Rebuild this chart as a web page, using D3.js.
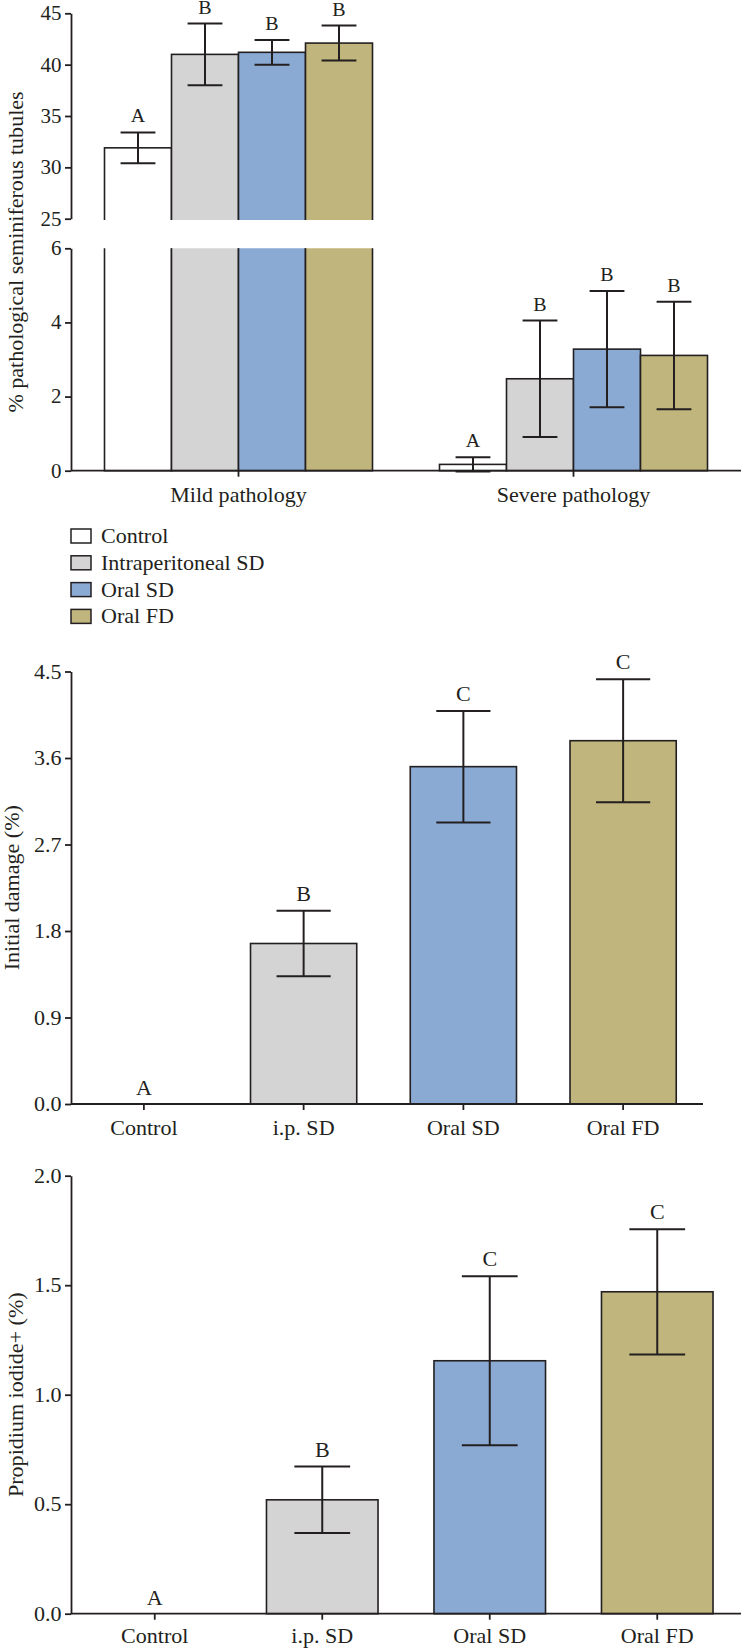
<!DOCTYPE html>
<html><head><meta charset="utf-8">
<script src="https://cdn.jsdelivr.net/npm/d3@7"></script>
<style>
body{margin:0;background:#fff}
svg{display:block}
text{font-family:"Liberation Serif","Times New Roman",serif;fill:#231f20}
</style>
</head><body>
<svg id="c" width="742" height="1649"></svg>
<script>
// ---------- data ----------
const groups = ["Control", "Intraperitoneal SD", "Oral SD", "Oral FD"];
const colors = ["#ffffff", "#d4d4d4", "#8aaad4", "#c0b57c"];

const categories1 = ["Mild pathology", "Severe pathology"];
const mildMean = [31.9, 41.0, 41.2, 42.1];
const mildErr = [1.5, 3.0, 1.2, 1.7];
const mildLetters = ["A", "B", "B", "B"];
const severeMean = [0.17, 2.48, 3.28, 3.11];
const severeErr = [0.19, 1.57, 1.57, 1.45];
const severeLetters = ["A", "B", "B", "B"];
const upperTicks = [25, 30, 35, 40, 45];
const lowerTicks = [0, 2, 4, 6];

const categories2 = ["Control", "i.p. SD", "Oral SD", "Oral FD"];
const damageMean = [0, 1.67, 3.51, 3.78];
const damageErr = [0, 0.34, 0.58, 0.64];
const damageLetters = ["A", "B", "C", "C"];
const damageTicks = [0, 0.9, 1.8, 2.7, 3.6, 4.5];

const piMean = [0, 0.52, 1.155, 1.47];
const piErr = [0, 0.152, 0.386, 0.286];
const piLetters = ["A", "B", "C", "C"];
const piTicks = [0, 0.5, 1.0, 1.5, 2.0];

// ---------- helpers ----------
const INK = "#231f20";
const SX = 1.05;
const FS = 21;
const svg = d3.select("#c");
const defs = svg.append("defs");

function styleAxis(g, fs) {
  g.selectAll("path.domain").attr("stroke", INK).attr("stroke-width", 1.8);
  g.selectAll(".tick line").attr("stroke", INK).attr("stroke-width", 1.8);
  g.selectAll(".tick text").attr("font-size", fs).attr("fill", INK)
    .attr("font-family", '"Liberation Serif",serif')
    .attr("transform", `scale(${SX},1)`);
}
function label(g, x, y, str, fs, anchor, rot) {
  return g.append("text")
    .attr("transform", `translate(${x},${y})${rot ? " rotate(-90)" : ""} scale(${SX},1)`)
    .attr("text-anchor", anchor || "middle")
    .attr("font-size", fs || FS)
    .text(str);
}
function errBar(g, cx, y, mean, err, halfCap) {
  if (err <= 0) return;
  const top = y(mean + err), bot = y(mean - err);
  g.append("line").attr("x1", cx).attr("x2", cx).attr("y1", top).attr("y2", bot);
  g.append("line").attr("x1", cx - halfCap).attr("x2", cx + halfCap).attr("y1", top).attr("y2", top);
  g.append("line").attr("x1", cx - halfCap).attr("x2", cx + halfCap).attr("y1", bot).attr("y2", bot);
}

// ================= Panel 1 =================
{
  const p = svg.append("g");
  const x0 = d3.scaleBand().domain(categories1).range([71, 741]).paddingInner(0.2).paddingOuter(0.1);
  const x1 = d3.scaleBand().domain(groups).range([0, x0.bandwidth()]);
  const yUp = d3.scaleLinear().domain([25, 45]).range([218.7, 13.3]);
  const yLow = d3.scaleLinear().domain([0, 6]).range([470.7, 248.3]);

  defs.append("clipPath").attr("id", "clipUp").append("rect")
    .attr("x", 0).attr("y", 0).attr("width", 742).attr("height", yUp(25) + 1.3);
  defs.append("clipPath").attr("id", "clipLow").append("rect")
    .attr("x", 0).attr("y", yLow(6)).attr("width", 742).attr("height", yLow(0) - yLow(6) + 10);

  const mild = groups.map((g, i) => ({ g, i, v: mildMean[i], e: mildErr[i], l: mildLetters[i] }));
  const sev = groups.map((g, i) => ({ g, i, v: severeMean[i], e: severeErr[i], l: severeLetters[i] }));
  const mx = x0(categories1[0]), sx = x0(categories1[1]);

  // mild bars, upper segment
  p.append("g").attr("clip-path", "url(#clipUp)").selectAll("rect").data(mild).join("rect")
    .attr("x", d => mx + x1(d.g)).attr("width", x1.bandwidth())
    .attr("y", d => yUp(d.v)).attr("height", d => yUp(0) - yUp(d.v))
    .attr("fill", d => colors[d.i]).attr("stroke", INK).attr("stroke-width", 1.6);
  // mild bars, lower segment
  p.append("g").attr("clip-path", "url(#clipLow)").selectAll("rect").data(mild).join("rect")
    .attr("x", d => mx + x1(d.g)).attr("width", x1.bandwidth())
    .attr("y", d => yLow(d.v)).attr("height", d => yLow(0) - yLow(d.v))
    .attr("fill", d => colors[d.i]).attr("stroke", INK).attr("stroke-width", 1.6);
  // severe bars
  p.append("g").selectAll("rect").data(sev).join("rect")
    .attr("x", d => sx + x1(d.g)).attr("width", x1.bandwidth())
    .attr("y", d => yLow(d.v)).attr("height", d => yLow(0) - yLow(d.v))
    .attr("fill", d => colors[d.i]).attr("stroke", INK).attr("stroke-width", 1.6);

  const eb = p.append("g").attr("stroke", INK).attr("stroke-width", 2);
  const half = x1.bandwidth() * 0.26;
  mild.forEach(d => {
    const cx = mx + x1(d.g) + x1.bandwidth() / 2;
    errBar(eb, cx, yUp, d.v, d.e, half);
    label(p, cx, yUp(d.v + d.e) - 10, d.l, 19);
  });
  sev.forEach(d => {
    const cx = sx + x1(d.g) + x1.bandwidth() / 2;
    errBar(eb, cx, yLow, d.v, d.e, half);
    label(p, cx, yLow(d.v + d.e) - 10, d.l, 19);
  });

  const ay1 = p.append("g").attr("transform", "translate(71,0)")
    .call(d3.axisLeft(yUp).tickValues(upperTicks).tickSize(6).tickPadding(3).tickSizeOuter(0).tickFormat(d3.format("d")));
  styleAxis(ay1, 20);
  const ay2 = p.append("g").attr("transform", "translate(71,0)")
    .call(d3.axisLeft(yLow).tickValues(lowerTicks).tickSize(6).tickPadding(3).tickSizeOuter(0).tickFormat(d3.format("d")));
  styleAxis(ay2, 20);
  const ax = p.append("g").attr("transform", `translate(0,${yLow(0)})`)
    .call(d3.axisBottom(x0).tickSize(6).tickPadding(10).tickSizeOuter(0));
  ax.select("path.domain").remove();
  styleAxis(ax, FS);
  p.append("line").attr("x1", 71).attr("x2", x0.range()[1]).attr("y1", yLow(0)).attr("y2", yLow(0))
    .attr("stroke", INK).attr("stroke-width", 1.8);

  label(p, 23, (yUp(45) + yLow(0)) / 2 + 10, "% pathological seminiferous tubules", FS, "middle", true);

  // legend
  const lg = p.append("g");
  groups.forEach((g, i) => {
    const cy = 536 + i * 26.8;
    lg.append("rect").attr("x", 71).attr("y", cy - 7).attr("width", 20).attr("height", 14)
      .attr("fill", colors[i]).attr("stroke", INK).attr("stroke-width", 1.5);
    label(lg, 101, cy + 7, g, FS, "start");
  });
}

// ================= Panel 2 =================
{
  const p = svg.append("g");
  const x = d3.scaleBand().domain(categories2).range([64, 703]).paddingInner(0.335).paddingOuter(0.1675);
  const y = d3.scaleLinear().domain([0, 4.5]).range([1104, 671.5]);
  const data = categories2.map((c, i) => ({ c, i, v: damageMean[i], e: damageErr[i], l: damageLetters[i] }));
  p.append("g").selectAll("rect").data(data.filter(d => d.v > 0)).join("rect")
    .attr("x", d => x(d.c)).attr("width", x.bandwidth())
    .attr("y", d => y(d.v)).attr("height", d => y(0) - y(d.v))
    .attr("fill", d => colors[d.i]).attr("stroke", INK).attr("stroke-width", 1.6);
  const eb = p.append("g").attr("stroke", INK).attr("stroke-width", 2);
  data.forEach(d => {
    const cx = x(d.c) + x.bandwidth() / 2;
    errBar(eb, cx, y, d.v, d.e, x.bandwidth() * 0.255);
    label(p, cx, y(d.v + d.e) - (d.e > 0 ? 10 : 9), d.l, FS);
  });
  const ay = p.append("g").attr("transform", "translate(71,0)")
    .call(d3.axisLeft(y).tickValues(damageTicks).tickSize(6).tickPadding(3).tickSizeOuter(0).tickFormat(d3.format(".1f")));
  styleAxis(ay, FS);
  const ax = p.append("g").attr("transform", `translate(0,${y(0)})`)
    .call(d3.axisBottom(x).tickSize(6).tickPadding(10).tickSizeOuter(0));
  ax.select("path.domain").remove();
  styleAxis(ax, FS);
  p.append("line").attr("x1", 71).attr("x2", x.range()[1]).attr("y1", y(0)).attr("y2", y(0))
    .attr("stroke", INK).attr("stroke-width", 1.8);
  label(p, 19, (y(0) + y(4.5)) / 2, "Initial damage (%)", FS, "middle", true);
}

// ================= Panel 3 =================
{
  const p = svg.append("g");
  const x = d3.scaleBand().domain(categories2).range([71, 741]).paddingInner(0.334).paddingOuter(0.167);
  const y = d3.scaleLinear().domain([0, 2]).range([1613.7, 1175.7]);
  const data = categories2.map((c, i) => ({ c, i, v: piMean[i], e: piErr[i], l: piLetters[i] }));
  p.append("g").selectAll("rect").data(data.filter(d => d.v > 0)).join("rect")
    .attr("x", d => x(d.c)).attr("width", x.bandwidth())
    .attr("y", d => y(d.v)).attr("height", d => y(0) - y(d.v))
    .attr("fill", d => colors[d.i]).attr("stroke", INK).attr("stroke-width", 1.6);
  const eb = p.append("g").attr("stroke", INK).attr("stroke-width", 2);
  data.forEach(d => {
    const cx = x(d.c) + x.bandwidth() / 2;
    errBar(eb, cx, y, d.v, d.e, x.bandwidth() * 0.25);
    label(p, cx, y(d.v + d.e) - (d.e > 0 ? 10 : 9), d.l, FS);
  });
  const ay = p.append("g").attr("transform", "translate(71,0)")
    .call(d3.axisLeft(y).tickValues(piTicks).tickSize(6).tickPadding(3).tickSizeOuter(0).tickFormat(d3.format(".1f")));
  styleAxis(ay, FS);
  const ax = p.append("g").attr("transform", `translate(0,${y(0)})`)
    .call(d3.axisBottom(x).tickSize(6).tickPadding(8).tickSizeOuter(0));
  ax.select("path.domain").remove();
  styleAxis(ax, FS);
  p.append("line").attr("x1", 71).attr("x2", x.range()[1]).attr("y1", y(0)).attr("y2", y(0))
    .attr("stroke", INK).attr("stroke-width", 1.8);
  label(p, 23, (y(0) + y(2)) / 2, "Propidium iodide+ (%)", FS, "middle", true);
}
</script>
</body></html>
